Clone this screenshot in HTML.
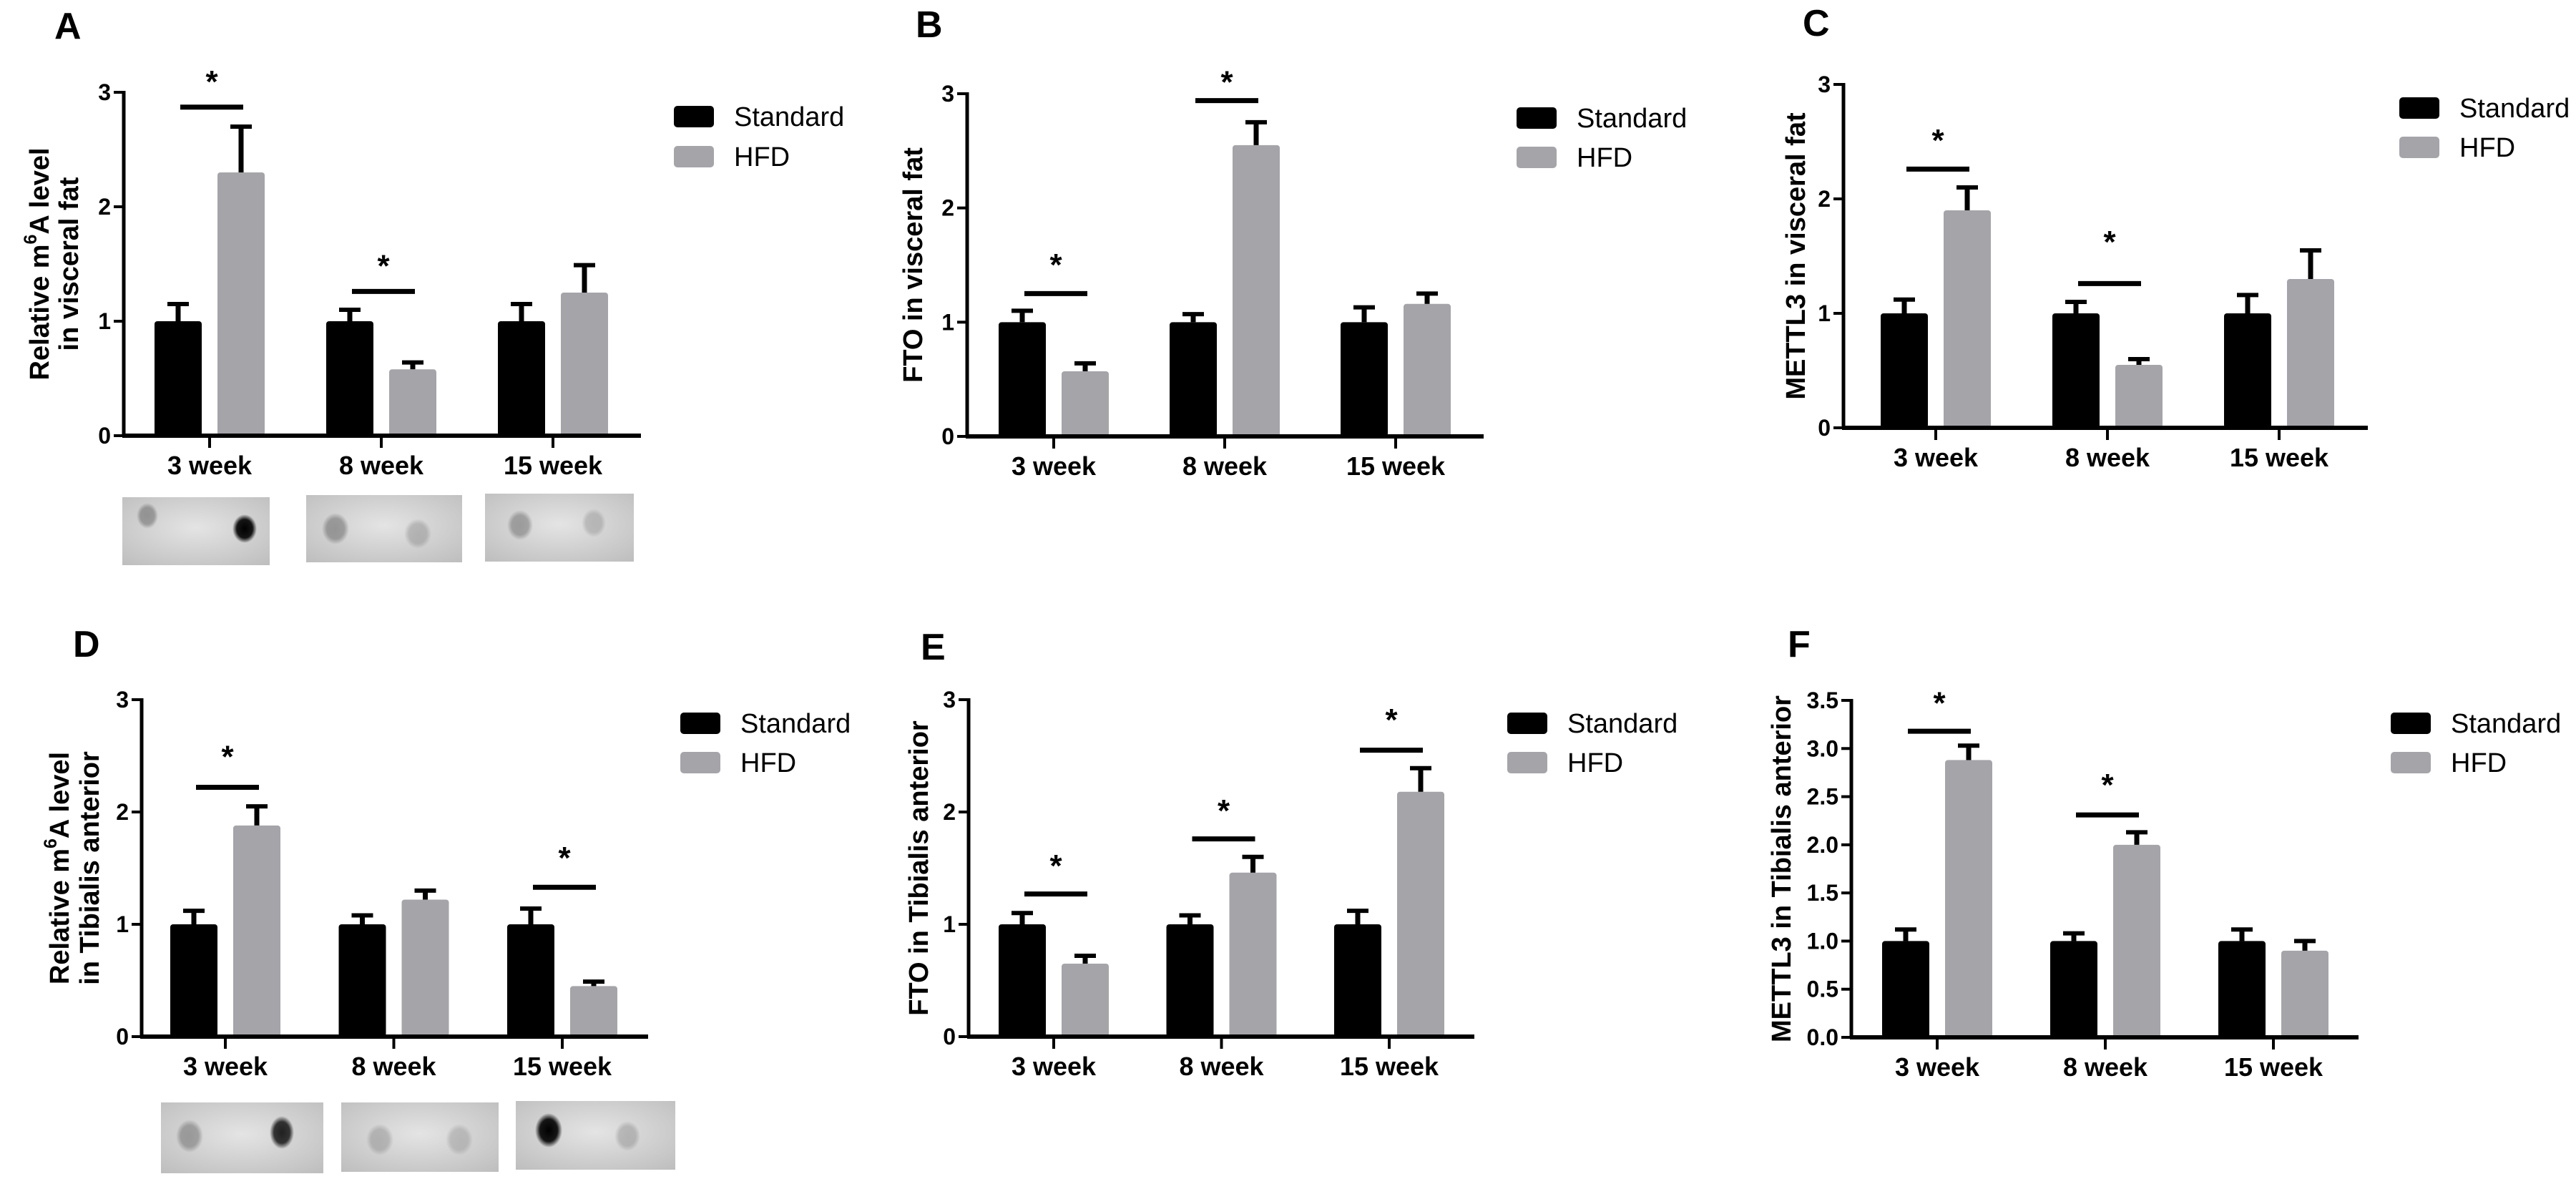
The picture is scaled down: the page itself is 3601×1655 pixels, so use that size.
<!DOCTYPE html>
<html><head><meta charset="utf-8"><style>
html,body{margin:0;padding:0;background:#fff;}
svg{display:block;font-family:"Liberation Sans",Arial,sans-serif;}
</style></head><body>
<svg id="fig" width="3601" height="1655" viewBox="0 0 3601 1655" xmlns="http://www.w3.org/2000/svg"></svg>
<script>
const categories = ["3 week", "8 week", "15 week"];
const seriesNames = ["Standard", "HFD"];

const aStandard = [1, 1, 1];
const aStandardErr = [1.15, 1.1, 1.15];
const aHfd = [2.3, 0.58, 1.25];
const aHfdErr = [2.7, 0.64, 1.49];
const aSigGroups = [0, 1];
const aSigLine = [2.87, 1.26];
const aSigStar = [3.15, 1.54];

const bStandard = [1, 1, 1];
const bStandardErr = [1.1, 1.07, 1.13];
const bHfd = [0.57, 2.55, 1.16];
const bHfdErr = [0.64, 2.75, 1.25];
const bSigGroups = [0, 1];
const bSigLine = [1.25, 2.94];
const bSigStar = [1.56, 3.16];

const cStandard = [1, 1, 1];
const cStandardErr = [1.12, 1.1, 1.16];
const cHfd = [1.9, 0.55, 1.3];
const cHfdErr = [2.1, 0.6, 1.55];
const cSigGroups = [0, 1];
const cSigLine = [2.26, 1.26];
const cSigStar = [2.57, 1.68];

const dStandard = [1, 1, 1];
const dStandardErr = [1.12, 1.08, 1.14];
const dHfd = [1.88, 1.22, 0.45];
const dHfdErr = [2.05, 1.3, 0.49];
const dSigGroups = [0, 2];
const dSigLine = [2.22, 1.33];
const dSigStar = [2.55, 1.65];

const eStandard = [1, 1, 1];
const eStandardErr = [1.1, 1.08, 1.12];
const eHfd = [0.65, 1.46, 2.18];
const eHfdErr = [0.72, 1.6, 2.39];
const eSigGroups = [0, 1, 2];
const eSigLine = [1.27, 1.76, 2.55];
const eSigStar = [1.58, 2.07, 2.88];

const fStandard = [1, 1, 1];
const fStandardErr = [1.12, 1.08, 1.12];
const fHfd = [2.88, 2.0, 0.9];
const fHfdErr = [3.03, 2.13, 1.0];
const fSigGroups = [0, 1];
const fSigLine = [3.18, 2.31];
const fSigStar = [3.54, 2.69];

const ticks3 = [0, 1, 2, 3];
const ticks3Labels = ["0", "1", "2", "3"];
const ticksF = [0, 0.5, 1, 1.5, 2, 2.5, 3, 3.5];
const ticksFLabels = ["0.0", "0.5", "1.0", "1.5", "2.0", "2.5", "3.0", "3.5"];

const NS = "http://www.w3.org/2000/svg";
const svg = document.getElementById("fig");
function mk(tag, attrs, parent, text) {
  const e = document.createElementNS(NS, tag);
  for (const k in attrs) e.setAttribute(k, attrs[k]);
  if (text !== undefined) e.textContent = text;
  (parent || svg).appendChild(e);
  return e;
}

function drawPanel(p) {
  const g = mk("g", {});
  
  
  const y = v => p.y0 - (v / p.yMax) * (p.y0 - p.yTop);
  const x = i => p.ax + p.first + i * p.step;

  const lt = mk("text", {x: p.lx, y: p.ly, "font-size": 52, "font-weight": "bold"}, g, p.letter);
  
  

  for (let i = 0; i < categories.length; i++) {
    const cx = x(i);
    const sb = mk("rect", {x: cx - 77, y: y(p.std[i]), width: 66, height: p.y0 - y(p.std[i]), fill: "#000", rx: 4}, g);
    
    
    const hb = mk("rect", {x: cx + 11, y: y(p.hfd[i]), width: 66, height: p.y0 - y(p.hfd[i]), fill: "#a5a4a9", rx: 4}, g);
    
    
    [[cx - 44, p.std[i], p.stdErr[i]], [cx + 44, p.hfd[i], p.hfdErr[i]]].forEach(([ex, v, e]) => {
      const el = mk("line", {x1: ex, x2: ex, y1: y(v), y2: y(e), stroke: "#000", "stroke-width": 7}, g);
      
      
      const cap = mk("line", {x1: ex - 15, x2: ex + 15, y1: y(e), y2: y(e), stroke: "#000", "stroke-width": 6}, g);
      
      
    });
    const tk = mk("line", {x1: cx, x2: cx, y1: p.y0, y2: p.y0 + 17, stroke: "#000", "stroke-width": 4}, g);
    
    
    const xl = mk("text", {x: cx, y: p.y0 + 54, "font-size": 36, "font-weight": "bold", "text-anchor": "middle"}, g, categories[i]);
    
    
  }
  const ya = mk("line", {x1: p.ax, x2: p.ax, y1: p.yTop - 2, y2: p.y0 + 2, stroke: "#000", "stroke-width": 5}, g);
  
  
  const xa = mk("line", {x1: p.ax - 2, x2: p.xEnd, y1: p.y0, y2: p.y0, stroke: "#000", "stroke-width": 6}, g);
  
  
  p.ticks.forEach((t, k) => {
    const tl = mk("line", {x1: p.ax - 14, x2: p.ax, y1: y(t), y2: y(t), stroke: "#000", "stroke-width": 4}, g);
    
    
    const tt = mk("text", {x: p.ax - 18, y: y(t) + 11, "font-size": 32, "font-weight": "bold", "text-anchor": "end"}, g, p.tickLabels[k]);
    
    
  });
  const cy = (p.y0 + p.yTop) / 2;
  p.title.forEach((line, k) => {
    const tx = p.titleX[k];
    const t = mk("text", {x: tx, y: cy, "font-size": 38, "font-weight": "bold", "text-anchor": "middle", "dominant-baseline": "central", transform: `rotate(-90 ${tx} ${cy})`}, g);
    
    
    if (line.indexOf("m6A") >= 0) {
      const parts = line.split("m6A");
      mk("tspan", {}, t, parts[0] + "m");
      mk("tspan", {"font-size": 25, dy: -13}, t, "6");
      mk("tspan", {dy: 13}, t, "A" + parts[1]);
    } else t.textContent = line;
  });
  p.sigGroups.forEach((gi, k) => {
    const cx = x(gi) + 3;
    const sl = mk("line", {x1: cx - 44, x2: cx + 44, y1: y(p.sigLine[k]), y2: y(p.sigLine[k]), stroke: "#000", "stroke-width": 7}, g);
    
    
    const st = mk("text", {x: cx, y: y(p.sigStar[k]) + 24, "font-size": 44, "font-weight": "bold", "text-anchor": "middle"}, g, "*");
    
    
  });
  [["#000", p.legY[0]], ["#a5a4a9", p.legY[1]]].forEach(([c, ly], k) => {
    const sw = mk("rect", {x: p.legX, y: ly, width: 56, height: 30, rx: 5, fill: c}, g);
    
    
    const lt2 = mk("text", {x: p.legX + 84, y: ly + 28, "font-size": 38}, g, seriesNames[k]);
    
    
  });
}

drawPanel({letter: "A", lx: 76, ly: 54, ax: 173, first: 120, step: 240, y0: 609, yTop: 129, yMax: 3, xEnd: 896,
  std: aStandard, stdErr: aStandardErr, hfd: aHfd, hfdErr: aHfdErr, sigGroups: aSigGroups, sigLine: aSigLine, sigStar: aSigStar,
  ticks: ticks3, tickLabels: ticks3Labels, title: ["Relative m6A level", "in visceral fat"], titleX: [56, 97], legX: 942, legY: [148, 204]});
drawPanel({letter: "B", lx: 1280, ly: 52, ax: 1352, first: 121, step: 239, y0: 610, yTop: 131, yMax: 3, xEnd: 2074,
  std: bStandard, stdErr: bStandardErr, hfd: bHfd, hfdErr: bHfdErr, sigGroups: bSigGroups, sigLine: bSigLine, sigStar: bSigStar,
  ticks: ticks3, tickLabels: ticks3Labels, title: ["FTO in visceral fat"], titleX: [1277], legX: 2120, legY: [150, 205]});
drawPanel({letter: "C", lx: 2520, ly: 50, ax: 2577, first: 129, step: 240, y0: 598, yTop: 118, yMax: 3, xEnd: 3310,
  std: cStandard, stdErr: cStandardErr, hfd: cHfd, hfdErr: cHfdErr, sigGroups: cSigGroups, sigLine: cSigLine, sigStar: cSigStar,
  ticks: ticks3, tickLabels: ticks3Labels, title: ["METTL3 in visceral fat"], titleX: [2511], legX: 3354, legY: [136, 191]});
drawPanel({letter: "D", lx: 102, ly: 918, ax: 198, first: 117, step: 235.5, y0: 1449, yTop: 978, yMax: 3, xEnd: 906,
  std: dStandard, stdErr: dStandardErr, hfd: dHfd, hfdErr: dHfdErr, sigGroups: dSigGroups, sigLine: dSigLine, sigStar: dSigStar,
  ticks: ticks3, tickLabels: ticks3Labels, title: ["Relative m6A level", "in Tibialis anterior"], titleX: [84, 126], legX: 951, legY: [996, 1051]});
drawPanel({letter: "E", lx: 1287, ly: 922, ax: 1354, first: 119, step: 234.5, y0: 1449, yTop: 978, yMax: 3, xEnd: 2061,
  std: eStandard, stdErr: eStandardErr, hfd: eHfd, hfdErr: eHfdErr, sigGroups: eSigGroups, sigLine: eSigLine, sigStar: eSigStar,
  ticks: ticks3, tickLabels: ticks3Labels, title: ["FTO in Tibialis anterior"], titleX: [1285], legX: 2107, legY: [996, 1051]});
drawPanel({letter: "F", lx: 2499, ly: 918, ax: 2588, first: 120, step: 235, y0: 1450, yTop: 979, yMax: 3.5, xEnd: 3297,
  std: fStandard, stdErr: fStandardErr, hfd: fHfd, hfdErr: fHfdErr, sigGroups: fSigGroups, sigLine: fSigLine, sigStar: fSigStar,
  ticks: ticksF, tickLabels: ticksFLabels, title: ["METTL3 in Tibialis anterior"], titleX: [2491], legX: 3342, legY: [996, 1051]});

const defs = mk("defs", {});
const bgGrad = mk("radialGradient", {id: "blotbg", cx: "50%", cy: "45%", r: "75%"}, defs);
mk("stop", {offset: "0%", "stop-color": "#e4e4e4"}, bgGrad);
mk("stop", {offset: "100%", "stop-color": "#bdbdbd"}, bgGrad);
const blots = [
  {x: 171, y: 695, w: 206, h: 95, dots: [[206, 721, 15, 18, 0.3], [342, 739, 17, 20, 1]]},
  {x: 428, y: 692, w: 218, h: 94, dots: [[469, 739, 19, 22, 0.3], [584, 746, 19, 21, 0.18]]},
  {x: 678, y: 690, w: 208, h: 95, dots: [[727, 734, 18, 21, 0.28], [830, 731, 17, 20, 0.16]]},
  {x: 225, y: 1541, w: 227, h: 99, dots: [[265, 1588, 19, 23, 0.28], [394, 1583, 17, 23, 0.85]]},
  {x: 477, y: 1541, w: 220, h: 97, dots: [[531, 1593, 19, 22, 0.18], [642, 1593, 19, 22, 0.15]]},
  {x: 721, y: 1539, w: 223, h: 96, dots: [[767, 1580, 19, 24, 1], [877, 1588, 18, 21, 0.18]]}
];
blots.forEach((b, i) => {
  const r = mk("rect", {x: b.x, y: b.y, width: b.w, height: b.h, fill: "url(#blotbg)"}, svg);
  
  
  b.dots.forEach((d, j) => {
    const id = "gr" + i + "_" + j;
    const gr = mk("radialGradient", {id: id}, defs);
    mk("stop", {offset: "0%", "stop-color": "#000", "stop-opacity": d[4]}, gr);
    mk("stop", {offset: "65%", "stop-color": "#000", "stop-opacity": d[4] * 0.9}, gr);
    mk("stop", {offset: "100%", "stop-color": "#000", "stop-opacity": 0}, gr);
    const e = mk("ellipse", {cx: d[0], cy: d[1], rx: d[2], ry: d[3], fill: `url(#${id})`}, svg);
    
    
  });
});
</script>
</body></html>
